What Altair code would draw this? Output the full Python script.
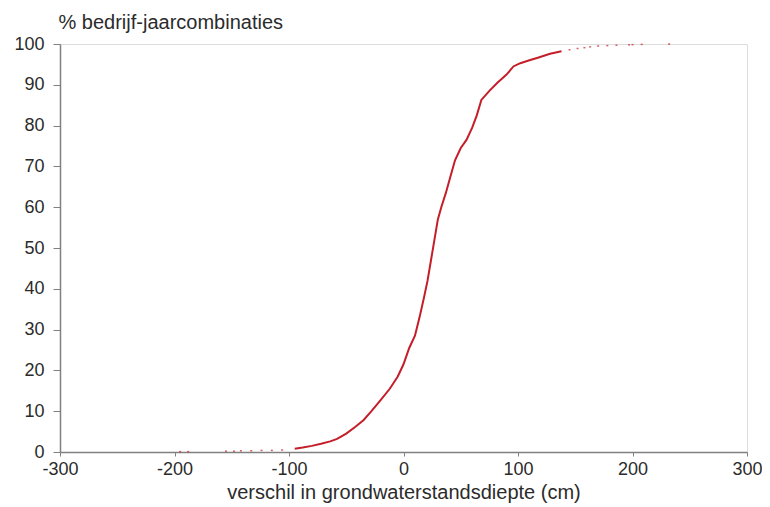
import altair as alt
import pandas as pd

# main dense part of the cumulative curve (x in cm, y in %)
curve_x = [-95, -88, -80, -72, -64, -58, -50, -42, -35, -28, -20, -12, -5, 0, 5, 10, 14, 18, 21, 24,
           27, 30, 33, 37, 41, 45, 50, 55, 60, 64, 68, 75, 82, 90, 96, 102, 110, 118, 128, 138]
curve_y = [0.8, 1.1, 1.5, 2.0, 2.6, 3.2, 4.5, 6.2, 7.8, 10.0, 12.7, 15.5, 18.5, 21.5, 25.5, 28.5, 33, 38, 42, 47,
           52, 57, 60, 63.5, 67.5, 71.5, 74.5, 76.5, 79.5, 82.5, 86.3, 88.5, 90.5, 92.5, 94.5, 95.3, 96, 96.7, 97.6, 98.2]

# sparse tail observations
tail_x = [-195, -188, -155, -148, -142, -133, -124, -115, -106,
          145, 152, 158, 163, 170, 178, 186, 197, 200, 208, 232]
tail_y = [0.1, 0.1, 0.2, 0.2, 0.3, 0.3, 0.4, 0.4, 0.5,
          98.6, 98.9, 99.1, 99.3, 99.5, 99.6, 99.7, 99.8, 99.85, 99.9, 100]

x_ticks = [-300, -200, -100, 0, 100, 200, 300]
y_ticks = [0, 10, 20, 30, 40, 50, 60, 70, 80, 90, 100]

curve = pd.DataFrame({"x": curve_x, "y": curve_y})
tail = pd.DataFrame({"x": tail_x, "y": tail_y})

RED = "#c41e2a"
FONT = "Liberation Sans"
TXT = "#2b2b2b"

xs = alt.Scale(domain=[-300, 300], nice=False, zero=False)
ys = alt.Scale(domain=[0, 100], nice=False)

xax = alt.Axis(values=x_ticks, title="verschil in grondwaterstandsdiepte (cm)", grid=False,
               labelExpr="toString(datum.value)",
               domainColor="#808080", domainWidth=1.5, tickColor="#808080", tickSize=4,
               labelFont=FONT, labelFontSize=18, labelColor=TXT, labelPadding=4,
               titleFont=FONT, titleFontSize=20, titleFontWeight="normal", titleColor=TXT,
               titlePadding=4, labelFlush=False)
yax = alt.Axis(values=y_ticks, title="% bedrijf-jaarcombinaties", grid=False,
               domainColor="#808080", domainWidth=1.5, tickColor="#808080", tickSize=7,
               labelFont=FONT, labelFontSize=18, labelColor=TXT, labelPadding=9,
               titleFont=FONT, titleFontSize=20, titleFontWeight="normal", titleColor=TXT,
               titleAngle=0, titleAlign="left", titleBaseline="alphabetic", titleX=-2, titleY=-16,
               labelFlush=False)

line = alt.Chart(curve).mark_line(color=RED, strokeWidth=2).encode(
    x=alt.X("x:Q", scale=xs, axis=xax),
    y=alt.Y("y:Q", scale=ys, axis=yax),
)
dots = alt.Chart(tail).mark_tick(color=RED, thickness=1.5, size=2, orient="horizontal").encode(
    x=alt.X("x:Q", scale=xs),
    y=alt.Y("y:Q", scale=ys),
)

chart = alt.layer(line, dots).properties(
    width=687, height=408,
    autosize=alt.AutoSizeParams(type="none"),
    padding={"left": 52, "top": 36, "right": 15, "bottom": 54},
).configure_view(stroke=None).configure(background="white")

chart.save("out.html", embed_options={"renderer": "svg", "actions": False})
